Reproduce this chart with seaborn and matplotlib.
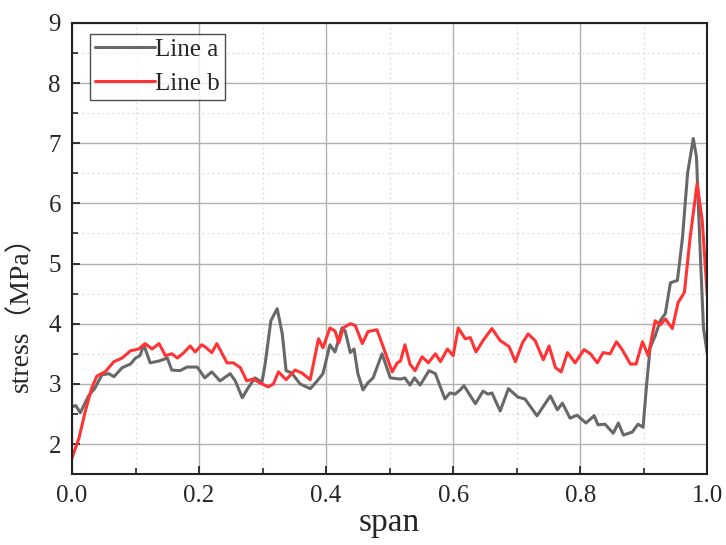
import numpy as np
import pandas as pd
import matplotlib
matplotlib.use('Agg')
import matplotlib.pyplot as plt
import seaborn as sns
from matplotlib.ticker import MultipleLocator

# Line a (cinza)
x_a = [0.0, 0.006, 0.013, 0.026, 0.036, 0.047, 0.058, 0.066, 0.079, 0.092, 0.1, 0.107, 0.113, 0.123,
       0.137, 0.15, 0.157, 0.17, 0.181, 0.197, 0.209, 0.22, 0.233, 0.249, 0.257, 0.268, 0.277, 0.288,
       0.299, 0.304, 0.313, 0.323, 0.331, 0.337, 0.346, 0.359, 0.375, 0.386, 0.395, 0.406, 0.414,
       0.425, 0.43, 0.438, 0.444, 0.45, 0.458, 0.466, 0.474, 0.488, 0.493, 0.501, 0.517, 0.524,
       0.532, 0.539, 0.548, 0.562, 0.572, 0.587, 0.595, 0.603, 0.611, 0.617, 0.635, 0.647, 0.655,
       0.661, 0.674, 0.687, 0.702, 0.713, 0.732, 0.753, 0.764, 0.772, 0.784, 0.795, 0.809, 0.822,
       0.828, 0.839, 0.852, 0.86, 0.868, 0.882, 0.891, 0.899, 0.904, 0.91, 0.918, 0.926, 0.934,
       0.942, 0.953, 0.961, 0.969, 0.978, 0.983, 0.989, 0.994, 1.0]
y_a = [2.62, 2.64, 2.52, 2.8, 2.93, 3.15, 3.17, 3.12, 3.27, 3.33, 3.43, 3.47, 3.65, 3.35,
       3.38, 3.43, 3.23, 3.22, 3.28, 3.28, 3.1, 3.2, 3.05, 3.17, 3.05, 2.77, 2.93, 3.1,
       3.03, 3.33, 4.05, 4.25, 3.83, 3.22, 3.18, 3.0, 2.92, 3.05, 3.17, 3.65, 3.53,
       3.93, 3.88, 3.52, 3.58, 3.17, 2.9, 3.02, 3.1, 3.5, 3.35, 3.1, 3.08, 3.1,
       2.98, 3.1, 2.98, 3.22, 3.17, 2.75, 2.85, 2.83, 2.9, 2.97, 2.67, 2.88, 2.83,
       2.85, 2.55, 2.92, 2.78, 2.75, 2.47, 2.8, 2.57, 2.68, 2.43, 2.48, 2.35, 2.47,
       2.32, 2.33, 2.18, 2.35, 2.15, 2.2, 2.33, 2.28, 2.93, 3.6, 3.8, 4.05, 4.17,
       4.68, 4.72, 5.43, 6.5, 7.08, 6.77, 5.17, 3.93, 3.5]

# Line b (vermelha)
x_b = [0.0, 0.011, 0.021, 0.031, 0.039, 0.052, 0.066, 0.079, 0.092, 0.105, 0.115, 0.126, 0.137,
       0.147, 0.157, 0.166, 0.176, 0.186, 0.194, 0.204, 0.209, 0.22, 0.228, 0.244, 0.254, 0.265,
       0.275, 0.285, 0.299, 0.309, 0.317, 0.325, 0.337, 0.351, 0.362, 0.375, 0.388, 0.395, 0.406,
       0.414, 0.42, 0.427, 0.438, 0.446, 0.457, 0.466, 0.48, 0.488, 0.504, 0.512, 0.517, 0.524,
       0.532, 0.54, 0.551, 0.561, 0.572, 0.58, 0.591, 0.6, 0.608, 0.619, 0.627, 0.636, 0.647,
       0.661, 0.674, 0.688, 0.698, 0.709, 0.718, 0.729, 0.742, 0.751, 0.761, 0.77, 0.78, 0.792,
       0.806, 0.816, 0.827, 0.836, 0.847, 0.857, 0.866, 0.879, 0.888, 0.898, 0.907, 0.918,
       0.926, 0.934, 0.945, 0.954, 0.964, 0.973, 0.984, 0.992, 1.0]
y_b = [1.77, 2.1, 2.55, 2.93, 3.13, 3.2, 3.37, 3.43, 3.55, 3.58, 3.67, 3.58, 3.67,
       3.47, 3.5, 3.43, 3.52, 3.63, 3.53, 3.65, 3.62, 3.52, 3.67, 3.35, 3.35, 3.27,
       3.05, 3.08, 3.0, 2.95, 3.0, 3.2, 3.07, 3.23, 3.18, 3.07, 3.75, 3.6, 3.93,
       3.88, 3.68, 3.93, 4.0, 3.97, 3.67, 3.87, 3.9, 3.67, 3.2, 3.35, 3.38, 3.65,
       3.33, 3.22, 3.45, 3.35, 3.5, 3.37, 3.58, 3.47, 3.93, 3.75, 3.77, 3.53, 3.72,
       3.92, 3.72, 3.62, 3.37, 3.68, 3.83, 3.72, 3.4, 3.63, 3.27, 3.2, 3.52, 3.35,
       3.57, 3.5, 3.35, 3.52, 3.5, 3.7, 3.57, 3.33, 3.33, 3.7, 3.47, 4.05,
       3.98, 4.08, 3.92, 4.35, 4.52, 5.43, 6.33, 5.72, 4.47]

df = pd.concat([
    pd.DataFrame({'span': x_a, 'stress': y_a, 'linha': 'Line a'}),
    pd.DataFrame({'span': x_b, 'stress': y_b, 'linha': 'Line b'}),
])

sns.set_style('ticks')
plt.rcParams['font.family'] = ['Liberation Serif', 'Noto Sans CJK SC']

fig = plt.figure(figsize=(7.26, 5.45), dpi=100)
ax = fig.add_axes([0.0992, 0.130, 0.875, 0.828])

sns.lineplot(data=df, x='span', y='stress', hue='linha', sort=False,
             palette={'Line a': '#686868', 'Line b': '#ff3333'}, linewidth=2.2, ax=ax)

ax.set_xlim(0, 1)
ax.set_ylim(1.5, 9)
ax.set_xticks([0, 0.2, 0.4, 0.6, 0.8, 1.0])
ax.set_xticklabels(['0.0', '0.2', '0.4', '0.6', '0.8', '1.0'])
ax.xaxis.set_minor_locator(MultipleLocator(0.1))
ax.yaxis.set_major_locator(MultipleLocator(1))
ax.yaxis.set_minor_locator(MultipleLocator(0.5))

ax.grid(which='major', color='#b0b0b0', linewidth=1, linestyle='-')
ax.grid(which='minor', color='#d8d8d8', linewidth=0.9, linestyle=(0, (1.5, 2.5)))
ax.set_axisbelow(True)

ax.tick_params(which='major', direction='in', length=6, width=1.3, labelsize=18, pad=8,
               top=False, right=False)
ax.tick_params(which='minor', direction='in', length=4, width=1.2, top=False, right=False)
for s in ax.spines.values():
    s.set_linewidth(1.5)
    s.set_color('#222222')

ax.set_xlabel('span', fontsize=24, labelpad=0)
ax.set_ylabel('stress（MPa）', fontsize=20)
ax.yaxis.set_label_coords(-0.06, 0.37)

leg = ax.legend(loc='upper left', bbox_to_anchor=(0.028, 0.976), borderaxespad=0,
                fontsize=18, frameon=True, fancybox=False, edgecolor='#222222',
                handlelength=2.4, handletextpad=0.0, borderpad=0.2, labelspacing=0.45)
leg.get_frame().set_linewidth(1.0)

plt.savefig('out.png', dpi=100)
